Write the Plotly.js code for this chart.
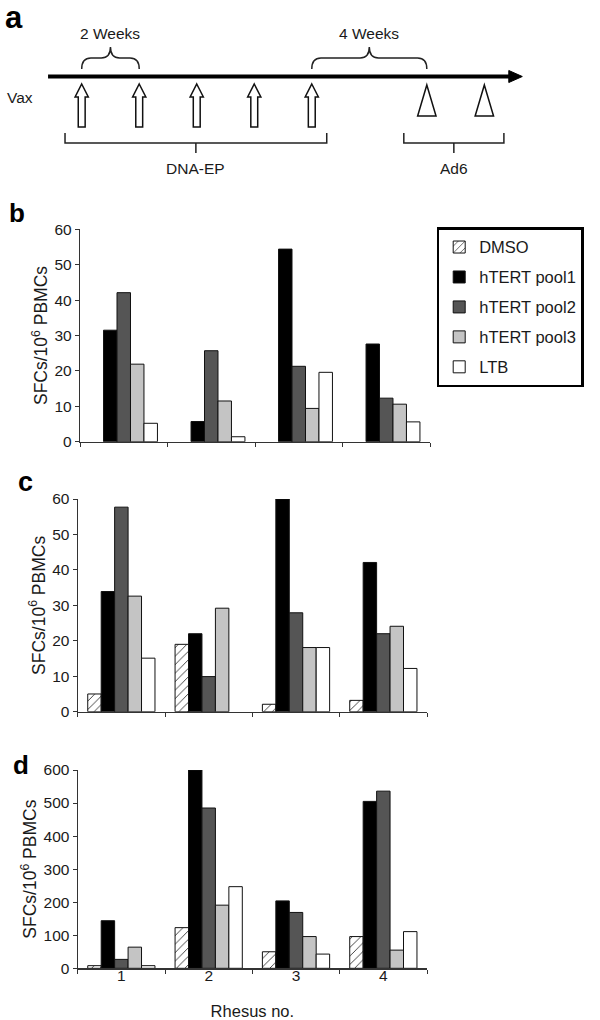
<!DOCTYPE html>
<html>
<head>
<meta charset="utf-8">
<script src="https://cdn.plot.ly/plotly-3.0.1.min.js"></script>
<style>html,body{margin:0;padding:0;background:#fff;}#chart{width:600px;height:1020px;}</style>
</head>
<body>
<div id="chart"></div>
<script>
// ---------- data ----------
const categories = ['1', '2', '3', '4'];
const seriesNames = ['DMSO', 'hTERT pool1', 'hTERT pool2', 'hTERT pool3', 'LTB'];

// panel b
const b_dmso  = [null, null, null, null];
const b_pool1 = [31.5, 5.7, 54.4, 27.6];
const b_pool2 = [42.1, 25.7, 21.3, 12.3];
const b_pool3 = [21.9, 11.5, 9.4, 10.6];
const b_ltb   = [5.2, 1.4, 19.6, 5.6];

// panel c
const c_dmso  = [5.0, 19.0, 2.1, 3.2];
const c_pool1 = [33.9, 22.0, 60.0, 42.1];
const c_pool2 = [57.7, 9.9, 27.9, 22.0];
const c_pool3 = [32.6, 29.2, 18.1, 24.1];
const c_ltb   = [15.1, null, 18.1, 12.2];

// panel d
const d_dmso  = [8, 123, 50, 96];
const d_pool1 = [144, 600, 204, 505];
const d_pool2 = [27, 485, 169, 536];
const d_pool3 = [64, 191, 96, 55];
const d_ltb   = [8, 247, 43, 111];

// panel a (schedule, weeks)
const dnaWeeks = [0, 2, 4, 6, 8];
const ad6Weeks = [12, 14];
const intervalLabels = ['2 Weeks', '4 Weeks'];
const intervalFrom = [0, 8];
const intervalTo = [2, 12];
const groupLabels = ['DNA-EP', 'Ad6'];

// ---------- styles ----------
const FONT = 'Liberation Sans, Arial, Helvetica, sans-serif';
const TXT = '#1a1a1a';
const fills = ['#ffffff', '#000000', '#555555', '#c4c4c4', '#ffffff'];

function barTrace(name, idx, y, xa, ya, showLeg) {
  const marker = {color: fills[idx], line: {color: '#111', width: 1}};
  if (idx === 0) {
    marker.pattern = {shape: '/', bgcolor: '#ffffff', fgcolor: '#333333', size: 6, solidity: 0.15};
  }
  return {
    type: 'bar', x: categories, y: y, name: name, xaxis: xa, yaxis: ya,
    marker: marker, showlegend: showLeg, legendgroup: name, hoverinfo: 'skip'
  };
}

const panelB = [b_dmso, b_pool1, b_pool2, b_pool3, b_ltb];
const panelC = [c_dmso, c_pool1, c_pool2, c_pool3, c_ltb];
const panelD = [d_dmso, d_pool1, d_pool2, d_pool3, d_ltb];

const data = [];
panelC.forEach((s, i) => data.push(barTrace(seriesNames[i], i, s, 'x2', 'y2', true)));
panelB.forEach((s, i) => data.push(barTrace(seriesNames[i], i, s, 'x', 'y', false)));
panelD.forEach((s, i) => data.push(barTrace(seriesNames[i], i, s, 'x3', 'y3', false)));

// ---------- axes ----------
const H = 1020, W = 600;
const px2y = p => 1 - p / H;
const px2x = p => p / W;

function xAx(l, r, anchor, labels) {
  return {
    domain: [px2x(l), px2x(r)], anchor: anchor, type: 'category', range: [-0.5, 3.5],
    showline: true, linecolor: '#333', linewidth: 1.2, ticks: 'outside', ticklen: 4,
    tickcolor: '#333', tickson: 'boundaries', showgrid: false, zeroline: false,
    showticklabels: labels, tickfont: {family: FONT, size: 15.5, color: TXT}, fixedrange: true
  };
}
const ytitle = {text: 'SFCs/10<sup>6</sup> PBMCs', font: {family: FONT, size: 17.5, color: TXT}, standoff: 2};
function yAx(top, bottom, anchor, max, dt) {
  return {
    domain: [px2y(bottom), px2y(top)], anchor: anchor, range: [0, max], dtick: dt,
    showline: true, linecolor: '#333', linewidth: 1.2, ticks: 'outside', ticklen: 4,
    tickcolor: '#333', showgrid: false, zeroline: false,
    tickfont: {family: FONT, size: 15.5, color: TXT}, title: ytitle, fixedrange: true
  };
}

// panel a axis: x in weeks, y in schematic units (0 top .. 190 bottom)
const wk0px = 81.7, pxPerWeek = 28.76;
const xaxis4 = {domain: [0, 1], range: [-wk0px / pxPerWeek, (W - wk0px) / pxPerWeek], visible: false, fixedrange: true, anchor: 'y4'};
const yaxis4 = {domain: [px2y(190), 1], range: [190, 0], visible: false, fixedrange: true, anchor: 'x4'};

// ---------- panel a shapes ----------
const shapes = [];
const LW = '#111';
const firstW = Math.min(...dnaWeeks), lastW = Math.max(...ad6Weeks);
// timeline
const lineStart = firstW - 1.17, lineEnd = lastW + 0.9, headLen = 0.42;
shapes.push({type: 'line', xref: 'x4', yref: 'y4', x0: lineStart, x1: lineEnd, y0: 76.5, y1: 76.5, line: {color: '#000', width: 4}});
shapes.push({type: 'path', xref: 'x4', yref: 'y4', path: `M${lineEnd - 0.05},70.5 L${lineEnd + headLen},76.5 L${lineEnd - 0.05},82.5 Z`, fillcolor: '#000', line: {color: '#000', width: 1}});
// DNA-EP block arrows
dnaWeeks.forEach(w => {
  const hw = 0.23, sw = 0.12;
  shapes.push({type: 'path', xref: 'x4', yref: 'y4',
    path: `M${w},84 L${w + hw},97 L${w + sw},97 L${w + sw},127 L${w - sw},127 L${w - sw},97 L${w - hw},97 Z`,
    fillcolor: '#fff', line: {color: LW, width: 1.5}});
});
// Ad6 triangles
ad6Weeks.forEach(w => {
  const hw = 0.32;
  shapes.push({type: 'path', xref: 'x4', yref: 'y4',
    path: `M${w},85 L${w + hw},116 L${w - hw},116 Z`, fillcolor: '#fff', line: {color: LW, width: 1.5}});
});
// curly braces
const annotations = [];
intervalFrom.forEach((x0, i) => {
  const x1 = intervalTo[i], xm = (x0 + x1) / 2, r = 0.32;
  shapes.push({type: 'path', xref: 'x4', yref: 'y4',
    path: `M${x0},69 Q${x0},58 ${x0 + r},58 L${xm - r},58 Q${xm},58 ${xm},47 Q${xm},58 ${xm + r},58 L${x1 - r},58 Q${x1},58 ${x1},69`,
    line: {color: '#222', width: 1.5}});
  annotations.push({xref: 'x4', yref: 'y4', x: xm, y: 33, text: intervalLabels[i], showarrow: false,
    font: {family: FONT, size: 15.5, color: TXT}, xanchor: 'center', yanchor: 'middle'});
});
// square brackets for groups
const groupWeeks = [dnaWeeks, ad6Weeks];
const groupPadL = [0.58, 0.8], groupPadR = [0.52, 0.68];
groupWeeks.forEach((ws, i) => {
  const x0 = Math.min(...ws) - groupPadL[i], x1 = Math.max(...ws) + groupPadR[i], xm = (x0 + x1) / 2;
  shapes.push({type: 'path', xref: 'x4', yref: 'y4',
    path: `M${x0},133 L${x0},143 L${x1},143 L${x1},133 M${xm},143 L${xm},153`,
    line: {color: '#222', width: 1.5}});
  annotations.push({xref: 'x4', yref: 'y4', x: xm, y: 168, text: groupLabels[i], showarrow: false,
    font: {family: FONT, size: 15.5, color: TXT}, xanchor: 'center', yanchor: 'middle'});
});
annotations.push({xref: 'paper', yref: 'paper', x: px2x(19.5), y: px2y(98), text: 'Vax', showarrow: false,
  font: {family: FONT, size: 15.5, color: TXT}, xanchor: 'center', yanchor: 'middle'});

// panel letters
const letters = [['a', 14, 17, 31], ['b', 17, 213, 26], ['c', 25, 482, 27], ['d', 21, 765, 26]];
letters.forEach(([t, x, y, s]) => annotations.push({xref: 'paper', yref: 'paper', x: px2x(x), y: px2y(y),
  text: '<b>' + t + '</b>', showarrow: false, xanchor: 'center', yanchor: 'middle',
  font: {family: FONT, size: s, color: '#000'}}));

const layout = {
  width: W, height: H, margin: {l: 0, r: 0, t: 0, b: 0},
  paper_bgcolor: '#fff', plot_bgcolor: 'rgba(0,0,0,0)',
  barmode: 'group', bargap: 0.23, bargroupgap: 0,
  font: {family: FONT, color: TXT},
  xaxis: xAx(80, 430, 'y', false),
  yaxis: yAx(229.3, 441.7, 'x', 60, 10),
  xaxis2: xAx(77.7, 427, 'y2', false),
  yaxis2: yAx(499, 711.7, 'x2', 60, 10),
  xaxis3: Object.assign(xAx(77.7, 427, 'y3', true), {ticklabelstandoff: -7,
    title: {text: 'Rhesus no.', font: {family: FONT, size: 16.5, color: TXT}, standoff: 22}}),
  yaxis3: yAx(770, 968.3, 'x3', 600, 100),
  xaxis4: xaxis4, yaxis4: yaxis4,
  legend: {x: px2x(436.7), y: px2y(227.3), xanchor: 'left', yanchor: 'top',
    bordercolor: '#000', borderwidth: 2.5, bgcolor: '#fff',
    font: {family: FONT, size: 16.5, color: TXT}, traceorder: 'grouped', tracegroupgap: 5.5},
  shapes: shapes, annotations: annotations, showlegend: true
};

Plotly.newPlot('chart', data, layout, {displayModeBar: false, staticPlot: true});
</script>
</body>
</html>
